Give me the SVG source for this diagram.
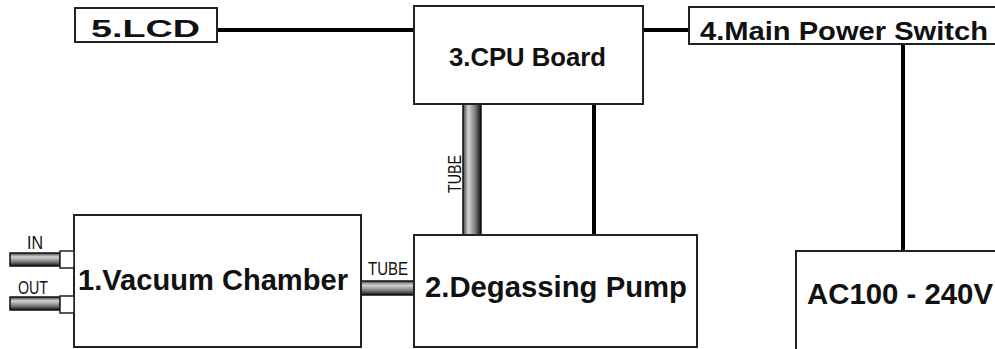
<svg xmlns="http://www.w3.org/2000/svg" width="995" height="349" viewBox="0 0 995 349">
<defs>
<linearGradient id="tubeV" x1="0" y1="0" x2="1" y2="0">
<stop offset="0" stop-color="#444"/><stop offset="0.3" stop-color="#d4d4d4"/><stop offset="0.7" stop-color="#777"/><stop offset="1" stop-color="#111"/>
</linearGradient>
<linearGradient id="tubeH" x1="0" y1="0" x2="0" y2="1">
<stop offset="0" stop-color="#444"/><stop offset="0.3" stop-color="#d4d4d4"/><stop offset="0.7" stop-color="#777"/><stop offset="1" stop-color="#111"/>
</linearGradient>
<style>
.box{fill:#fff;stroke:#222;stroke-width:2}
.lbl{font-family:"Liberation Sans",Arial,sans-serif;font-weight:bold;fill:#111}
.wire{stroke:#000;stroke-width:4;fill:none}
.tube{stroke:#111;stroke-width:1.5}
.small{font-family:"Liberation Sans",Arial,sans-serif;font-size:18px;fill:#111}
.port{fill:#fff;stroke:#222;stroke-width:1.5}
</style>
</defs>
<rect width="995" height="349" fill="#fff"/>
<g id="connectors">
<line class="wire" x1="217" y1="30" x2="414" y2="30"/>
<line class="wire" x1="643" y1="30" x2="689" y2="30"/>
<line class="wire" x1="903" y1="44" x2="903" y2="251"/>
<line class="wire" x1="594" y1="104" x2="594" y2="235"/>
<rect class="tube" x="463" y="104" width="18" height="131" fill="url(#tubeV)"/>
<text class="small" transform="translate(461,174) rotate(-90)" text-anchor="middle" textLength="38" lengthAdjust="spacingAndGlyphs">TUBE</text>
<rect class="tube" x="361" y="281" width="53" height="14" fill="url(#tubeH)"/>
<text class="small" x="368" y="275" textLength="40" lengthAdjust="spacingAndGlyphs">TUBE</text>
<rect class="tube" x="10" y="253" width="50" height="13" fill="url(#tubeH)"/>
<rect class="tube" x="10" y="297" width="50" height="13" fill="url(#tubeH)"/>
<text class="small" x="27" y="249" textLength="16" lengthAdjust="spacingAndGlyphs">IN</text>
<text class="small" x="18" y="294" textLength="30" lengthAdjust="spacingAndGlyphs">OUT</text>
</g>
<g id="lcd">
<rect class="box" x="75" y="8" width="142" height="34"/>
<text class="lbl" x="91" y="37" font-size="23" textLength="109" lengthAdjust="spacingAndGlyphs">5.LCD</text>
</g>
<g id="cpu">
<rect class="box" x="414" y="6" width="229" height="98"/>
<text class="lbl" x="449" y="66" font-size="26" textLength="157" lengthAdjust="spacingAndGlyphs">3.CPU Board</text>
</g>
<g id="power">
<rect class="box" x="689" y="7" width="330" height="37"/>
<text class="lbl" x="700" y="40" font-size="25" textLength="288" lengthAdjust="spacingAndGlyphs">4.Main Power Switch</text>
</g>
<g id="chamber">
<rect class="box" x="74" y="215" width="287" height="132"/>
<rect class="port" x="60" y="251" width="14" height="17"/>
<rect class="port" x="60" y="296" width="14" height="17"/>
<text class="lbl" x="78" y="290" font-size="29" textLength="270" lengthAdjust="spacingAndGlyphs">1.Vacuum Chamber</text>
</g>
<g id="pump">
<rect class="box" x="414" y="235" width="283" height="112"/>
<text class="lbl" x="425" y="297" font-size="29" textLength="262" lengthAdjust="spacingAndGlyphs">2.Degassing Pump</text>
</g>
<g id="ac">
<rect class="box" x="796" y="251" width="230" height="130"/>
<text class="lbl" x="807" y="304" font-size="29" textLength="186" lengthAdjust="spacingAndGlyphs">AC100 - 240V</text>
</g>
</svg>
